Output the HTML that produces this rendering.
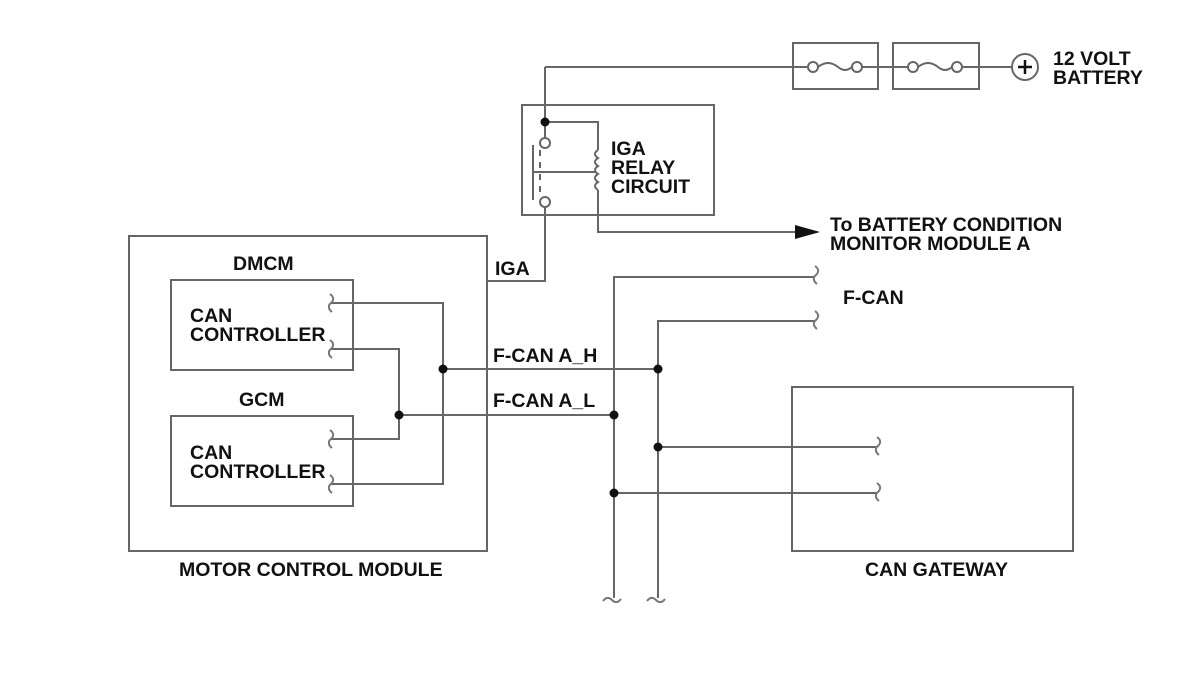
<!DOCTYPE html>
<html><head><meta charset="utf-8"><style>
html,body{margin:0;padding:0;background:#fff;}
svg{display:block;}
text{font-family:"Liberation Sans",Arial,sans-serif;font-weight:bold;font-size:19.5px;fill:#111;}
</style></head><body>
<svg width="1200" height="689" viewBox="0 0 1200 689" xmlns="http://www.w3.org/2000/svg">
<g fill="none" stroke="#666" stroke-width="2">
<rect x="793" y="43" width="85" height="46"/>
<rect x="893" y="43" width="86" height="46"/>
<line x1="545" y1="67" x2="808" y2="67"/>
<line x1="862" y1="67" x2="908" y2="67"/>
<line x1="962" y1="67" x2="1012" y2="67"/>
<circle cx="813" cy="67" r="5"/><circle cx="857" cy="67" r="5"/>
<path d="M818,67 q10,-8 20,0 q7,6 14,0"/>
<circle cx="913" cy="67" r="5"/><circle cx="957" cy="67" r="5"/>
<path d="M918,67 q10,-8 20,0 q7,6 14,0"/>
<rect x="522" y="105" width="192" height="110"/>
<line x1="545" y1="67" x2="545" y2="138"/>
<polyline points="545,122 598,122 598,150"/>
<path d="M598,150 q-6,4 0,8 q-6,4 0,8 q-6,4 0,8 q-6,4 0,8 q-6,4 0,8"/>
<polyline points="598,190 598,232 800,232"/>
<circle cx="545" cy="143" r="5"/>
<circle cx="545" cy="202" r="5"/>
<line x1="533" y1="145" x2="533" y2="200"/>
<line x1="533" y1="172" x2="596" y2="172"/>
<line x1="540" y1="150" x2="540" y2="195" stroke-dasharray="6,6"/>
<polyline points="545,207 545,281 487,281"/>
<rect x="129" y="236" width="358" height="315"/>
<rect x="171" y="280" width="182" height="90"/>
<rect x="171" y="416" width="182" height="90"/>
<polyline points="331,303 443,303 443,484 331,484"/>
<polyline points="331,349 399,349 399,439 331,439"/>
<line x1="443" y1="369" x2="658" y2="369"/>
<line x1="399" y1="415" x2="614" y2="415"/>
<polyline points="815,277 614,277 614,598"/>
<polyline points="815,321 658,321 658,598"/>
<line x1="658" y1="447" x2="877" y2="447"/>
<line x1="614" y1="493" x2="877" y2="493"/>
<rect x="792" y="387" width="281" height="164"/>
<circle cx="1025" cy="67" r="13"/>
</g>
<g fill="none" stroke="#777" stroke-width="2">
<path d="M330,294 c4,3 4,6 1,9 c-3,2 -3,6 1,9"/>
<path d="M330,340 c4,3 4,6 1,9 c-3,2 -3,6 1,9"/>
<path d="M330,430 c4,3 4,6 1,9 c-3,2 -3,6 1,9"/>
<path d="M330,475 c4,3 4,6 1,9 c-3,2 -3,6 1,9"/>
<path d="M815,266 c4,3 4,6 1,9 c-3,2 -3,6 1,9"/>
<path d="M815,311 c4,3 4,6 1,9 c-3,2 -3,6 1,9"/>
<path d="M877,437 c4,3 4,6 1,9 c-3,2 -3,6 1,9"/>
<path d="M877,483 c4,3 4,6 1,9 c-3,2 -3,6 1,9"/>
<path d="M603,601 c3,-4 6,-4 9,-1 c3,3 6,3 9,-1"/>
<path d="M647,601 c3,-4 6,-4 9,-1 c3,3 6,3 9,-1"/>
</g>
<line x1="1018" y1="67" x2="1032" y2="67" stroke="#111" stroke-width="2.5"/>
<line x1="1025" y1="60" x2="1025" y2="74" stroke="#111" stroke-width="2.5"/>
<polygon points="795,225 820,232 795,239" fill="#111"/>
<g fill="#111">
<circle cx="545" cy="122" r="4.5"/>
<circle cx="443" cy="369" r="4.5"/>
<circle cx="399" cy="415" r="4.5"/>
<circle cx="658" cy="369" r="4.5"/>
<circle cx="614" cy="415" r="4.5"/>
<circle cx="658" cy="447" r="4.5"/>
<circle cx="614" cy="493" r="4.5"/>
</g>
<text x="1053" y="65">12 VOLT</text>
<text x="1053" y="84">BATTERY</text>
<text x="611" y="155">IGA</text>
<text x="611" y="174">RELAY</text>
<text x="611" y="193">CIRCUIT</text>
<text x="830" y="231">To BATTERY CONDITION</text>
<text x="830" y="250">MONITOR MODULE A</text>
<text x="495" y="275">IGA</text>
<text x="233" y="270">DMCM</text>
<text x="190" y="322">CAN</text>
<text x="190" y="341">CONTROLLER</text>
<text x="239" y="406">GCM</text>
<text x="190" y="459">CAN</text>
<text x="190" y="478">CONTROLLER</text>
<text x="493" y="362">F-CAN A_H</text>
<text x="493" y="407">F-CAN A_L</text>
<text x="843" y="304">F-CAN</text>
<text x="179" y="576">MOTOR CONTROL MODULE</text>
<text x="865" y="576">CAN GATEWAY</text>
</svg>
</body></html>
